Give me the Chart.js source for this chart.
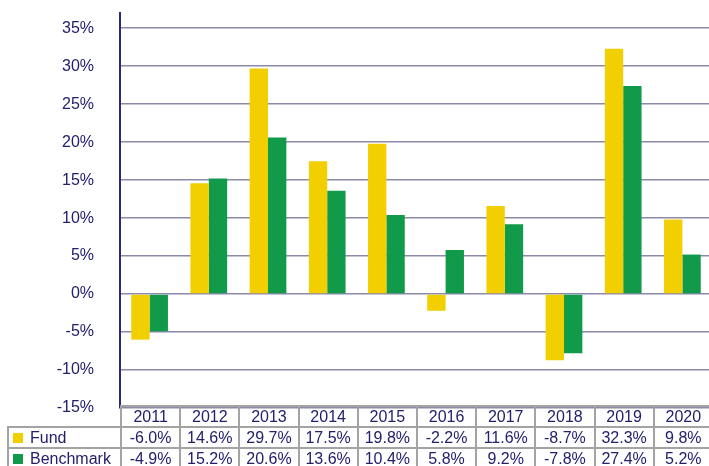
<!DOCTYPE html>
<html>
<head>
<meta charset="utf-8">
<script src="https://cdn.jsdelivr.net/npm/chart.js@4.4.0/dist/chart.umd.min.js"></script>
<style>
    html, body { margin: 0; padding: 0; background: #fff; overflow: hidden; }
    #wrap { position: relative; width: 712px; height: 466px; }
    #chartBox { position: absolute; left: 0; top: 0; width: 712px; height: 466px; }
    #dataTable {
        position: absolute; top: 405px; left: 7px;
        border-collapse: collapse; table-layout: fixed;
        font-family: "Liberation Sans", Arial, sans-serif; font-size: 16px; color: #23206e;
    }
    #dataTable td {
        border: 2px solid #a3a3a3; height: 19px; padding: 0; line-height: 19px;
        text-align: center; white-space: nowrap; overflow: hidden;
    }
    #dataTable td.blank { border: none; }
    #dataTable td.legend { text-align: left; padding-left: 4px; }
    .swatch { display: inline-block; width: 10px; height: 10px; margin-right: 7px; vertical-align: 0px; }
</style>
</head>
<body>
<div id="wrap">
    <div id="chartBox"><canvas id="barChart"></canvas></div>
    <table id="dataTable"></table>
</div>
<script>
// Dados do gráfico
const years = ['2011', '2012', '2013', '2014', '2015', '2016', '2017', '2018', '2019', '2020'];
const fundValues = [-6.0, 14.6, 29.7, 17.5, 19.8, -2.2, 11.6, -8.7, 32.3, 9.8];
const benchmarkValues = [-4.9, 15.2, 20.6, 13.6, 10.4, 5.8, 9.2, -7.8, 27.4, 5.2];
const seriesNames = ['Fund', 'Benchmark'];
const yTicks = [-15, -10, -5, 0, 5, 10, 15, 20, 25, 30, 35];

const colors = {
    fund: '#f2cf00',
    benchmark: '#109a4a',
    text: '#23206e',
    axis: '#2d2a7c',
    grid: '#8c8aa9'
};

const fmt = (v) => v.toFixed(1) + '%';

const chart = new Chart(document.getElementById('barChart'), {
    type: 'bar',
    data: {
        labels: years,
        datasets: [
            { label: seriesNames[0], data: fundValues, backgroundColor: colors.fund },
            { label: seriesNames[1], data: benchmarkValues, backgroundColor: colors.benchmark }
        ]
    },
    options: {
        responsive: true,
        maintainAspectRatio: false,
        animation: false,
        layout: { padding: { top: 13, bottom: 58, right: 0, left: 0 } },
        datasets: { bar: { categoryPercentage: 0.62, barPercentage: 1.0 } },
        plugins: { legend: { display: false }, tooltip: { enabled: false } },
        scales: {
            x: { display: false },
            y: {
                min: -15,
                max: 37,
                afterBuildTicks: (axis) => {
                    axis.ticks = yTicks.map(v => ({ value: v }));
                },
                afterFit: (axis) => {
                    axis.width = 120;
                    axis.paddingTop = 0;
                    axis.paddingBottom = 0;
                },
                ticks: {
                    padding: 26,
                    color: colors.text,
                    font: { family: '"Liberation Sans", Arial, sans-serif', size: 16 },
                    callback: (value) => value + '%'
                },
                grid: { color: colors.grid, lineWidth: 1.5, drawTicks: false },
                border: { color: colors.axis, width: 2 }
            }
        }
    }
});

// Tabela de dados abaixo do gráfico, alinhada com as categorias
const buildTable = () => {
    const area = chart.chartArea;
    const colW = (area.right - area.left) / years.length;
    const firstW = area.left - 7;
    const table = document.getElementById('dataTable');
    let html = '<colgroup><col style="width:' + firstW + 'px">';
    years.forEach(() => { html += '<col style="width:' + colW + 'px">'; });
    html += '</colgroup>';
    html += '<tr><td class="blank"></td>' + years.map(y => '<td>' + y + '</td>').join('') + '</tr>';
    const rows = [[seriesNames[0], colors.fund, fundValues], [seriesNames[1], colors.benchmark, benchmarkValues]];
    rows.forEach(([name, color, values]) => {
        html += '<tr><td class="legend"><span class="swatch" style="background:' + color + '"></span>' + name + '</td>' +
            values.map(v => '<td>' + fmt(v) + '</td>').join('') + '</tr>';
    });
    table.innerHTML = html;
    table.style.width = (firstW + colW * years.length) + 'px';
};
buildTable();
</script>
</body>
</html>
